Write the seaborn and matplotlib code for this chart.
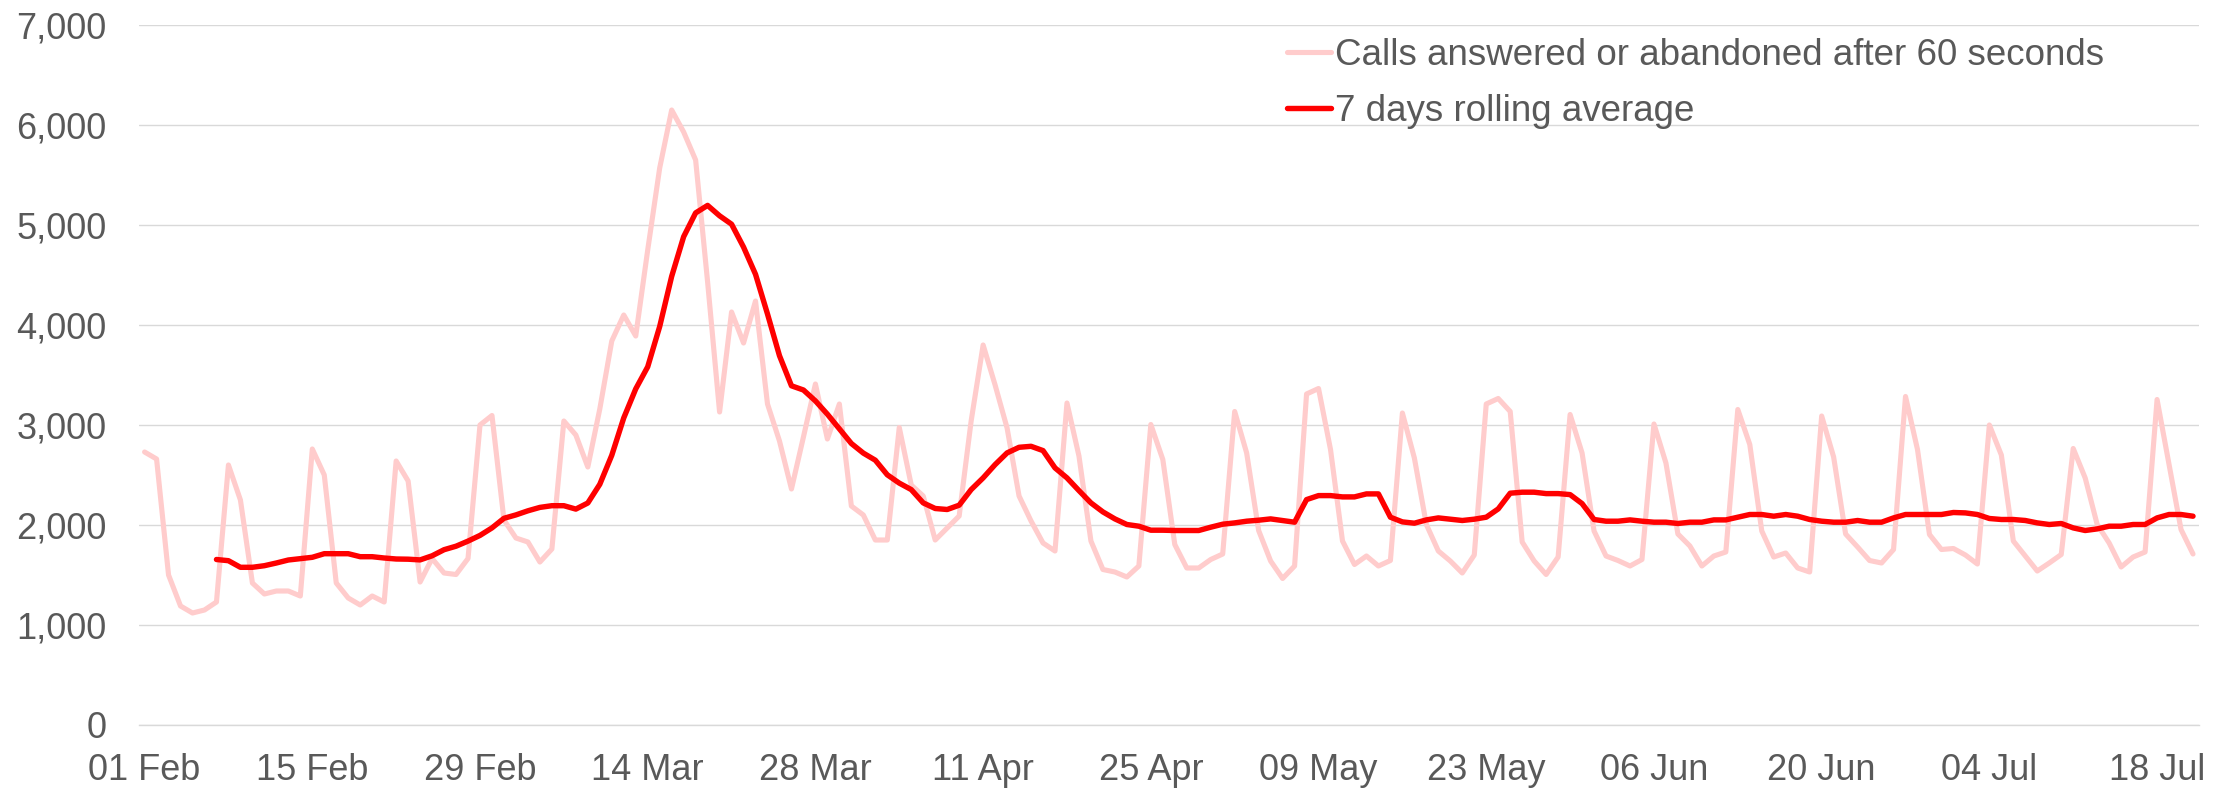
import numpy as np
import pandas as pd
import matplotlib
matplotlib.use("Agg")
import matplotlib.pyplot as plt
import matplotlib.dates as mdates
from matplotlib.ticker import FuncFormatter
import seaborn as sns

# ---------------- data (daily, 01 Feb 2020 - 21 Jul 2020) ----------------
start_date = "2020-02-01"
calls = [
    2730, 2660, 1500, 1190, 1120, 1150, 1230, 2600, 2250, 1420, 1310, 1340, 1340, 1290,
    2760, 2500, 1420, 1270, 1200, 1290, 1230, 2640, 2440, 1430, 1665, 1520, 1505, 1665,
    3000, 3095, 2050, 1870, 1830, 1630, 1760, 3040, 2900, 2580, 3160, 3840, 4100, 3890,
    4750, 5570, 6150, 5930, 5650, 4430, 3130, 4130, 3820, 4240, 3210, 2840, 2360, 2880,
    3410, 2860, 3210, 2190, 2100, 1850, 1850, 2975, 2400, 2290, 1850, 1970, 2090, 3040,
    3800, 3400, 2970, 2290, 2040, 1820, 1740, 3220, 2690, 1840, 1555, 1530, 1480, 1590,
    3005, 2655, 1805, 1570, 1570, 1655, 1710, 3135, 2720, 1945, 1640, 1465, 1590, 3310,
    3365, 2755, 1840, 1605, 1690, 1590, 1645, 3120, 2670, 2005, 1740, 1640, 1520, 1700,
    3210, 3265, 3135, 1830, 1640, 1505, 1680, 3105, 2720, 1940, 1690, 1645, 1590, 1655,
    3010, 2620, 1910, 1790, 1590, 1690, 1730, 3155, 2805, 1940, 1680, 1720, 1570, 1530,
    3090, 2680, 1910, 1780, 1645, 1620, 1755, 3285, 2755, 1905, 1755, 1765, 1700, 1610,
    3000, 2700, 1840, 1690, 1540, 1620, 1705, 2765, 2470, 2005, 1820, 1580, 1680, 1730,
    3255, 2605, 1955, 1710,
]
# 7 days rolling average, as drawn (starts on the 7th day)
rolling_avg = [
    1655, 1643, 1577, 1577, 1593, 1620, 1650, 1663, 1677, 1713, 1713, 1713, 1683, 1683,
    1670, 1660, 1658, 1651, 1692, 1753, 1788, 1839, 1896, 1971, 2067, 2101, 2142, 2176,
    2193, 2193, 2159, 2220, 2407, 2697, 3071, 3361, 3582, 3985, 4486, 4883, 5121, 5196,
    5092, 5008, 4779, 4507, 4110, 3693, 3392, 3350, 3241, 3108, 2962, 2815, 2719, 2648,
    2502, 2419, 2354, 2221, 2165, 2155, 2198, 2354, 2471, 2604, 2721, 2777, 2787, 2744,
    2571, 2471, 2344, 2221, 2131, 2061, 2005, 1988, 1948, 1948, 1945, 1945, 1945, 1978,
    2008, 2021, 2038, 2048, 2061, 2045, 2028, 2254, 2294, 2294, 2281, 2281, 2311, 2311,
    2078, 2031, 2018, 2051, 2071, 2058, 2045, 2058, 2078, 2161, 2318, 2328, 2328, 2314,
    2314, 2304, 2214, 2055, 2038, 2038, 2051, 2038, 2028, 2028, 2015, 2028, 2028, 2051,
    2051, 2078, 2105, 2105, 2088, 2105, 2088, 2055, 2038, 2028, 2028, 2045, 2028, 2028,
    2071, 2105, 2105, 2105, 2105, 2125, 2121, 2105, 2065, 2055, 2055, 2045, 2021, 2005,
    2015, 1971, 1945, 1961, 1988, 1988, 2005, 2005, 2071, 2105, 2105, 2088,
]
label_calls = "Calls answered or abandoned after 60 seconds"
label_avg = "7 days rolling average"
tick_every_days = 14
y_ticks = [0, 1000, 2000, 3000, 4000, 5000, 6000, 7000]

# ---------------- build table ----------------
dates = pd.date_range(start_date, periods=len(calls), freq="D")
avg_full = [np.nan] * (len(calls) - len(rolling_avg)) + rolling_avg
half_day = pd.Timedelta(hours=12)
df = pd.DataFrame({"date": dates + half_day, "calls": calls, "avg": avg_full})

# ---------------- style ----------------
sns.set_style("white")
plt.rcParams["font.family"] = ["Liberation Sans", "DejaVu Sans"]
text_color = "#595959"
grid_color = "#D9D9D9"
fs = 26

W, H = 2229, 788
fig = plt.figure(figsize=(W / 100, H / 100), dpi=100)
left, right, bottom, top = 138.6, 2199, 725, 25
ax = fig.add_axes([left / W, (H - bottom) / H, (right - left) / W, (bottom - top) / H])

sns.lineplot(data=df, x="date", y="calls", ax=ax, color="#FFCCCC", linewidth=3.7,
             label=label_calls)
sns.lineplot(data=df, x="date", y="avg", ax=ax, color="#FF0000", linewidth=3.9,
             label=label_avg)

ax.set_ylim(0, 7000)
ax.set_xlim(mdates.date2num(dates[0]), mdates.date2num(dates[-1] + pd.Timedelta(days=1)))
ax.set_xlabel("")
ax.set_ylabel("")

# y axis
ax.set_yticks(y_ticks)
ax.yaxis.set_major_formatter(FuncFormatter(lambda v, p: f"{int(v):,}"))
ax.tick_params(axis="y", length=0, pad=23, labelsize=fs, labelcolor=text_color)
ax.yaxis.grid(True, color=grid_color, linewidth=1.0)
ax.xaxis.grid(False)
ax.set_axisbelow(True)

# x axis: ticks at day boundaries, labels at day centres
tick_dates = dates[::tick_every_days]
ax.set_xticks(mdates.date2num(tick_dates), minor=True)
ax.set_xticks(mdates.date2num(tick_dates + half_day))
ax.set_xticklabels([d.strftime("%d %b") for d in tick_dates])
ax.tick_params(axis="x", which="major", length=0, pad=20, labelsize=fs, labelcolor=text_color)
ax.tick_params(axis="x", which="minor", length=7.2, width=1.0, color=grid_color, direction="out")

for s in ["left", "top", "right"]:
    ax.spines[s].set_visible(False)
ax.spines["bottom"].set_color(grid_color)
ax.spines["bottom"].set_linewidth(1.0)

leg = ax.legend(loc="upper left", bbox_to_anchor=(1287 / W, 1 - 38 / H),
                bbox_transform=fig.transFigure, frameon=False, fontsize=26.5,
                handlelength=1.2, handletextpad=0.1, borderpad=0, borderaxespad=0,
                labelspacing=0.58)
for t in leg.get_texts():
    t.set_color(text_color)

fig.savefig("out.png", dpi=100, facecolor="white")
